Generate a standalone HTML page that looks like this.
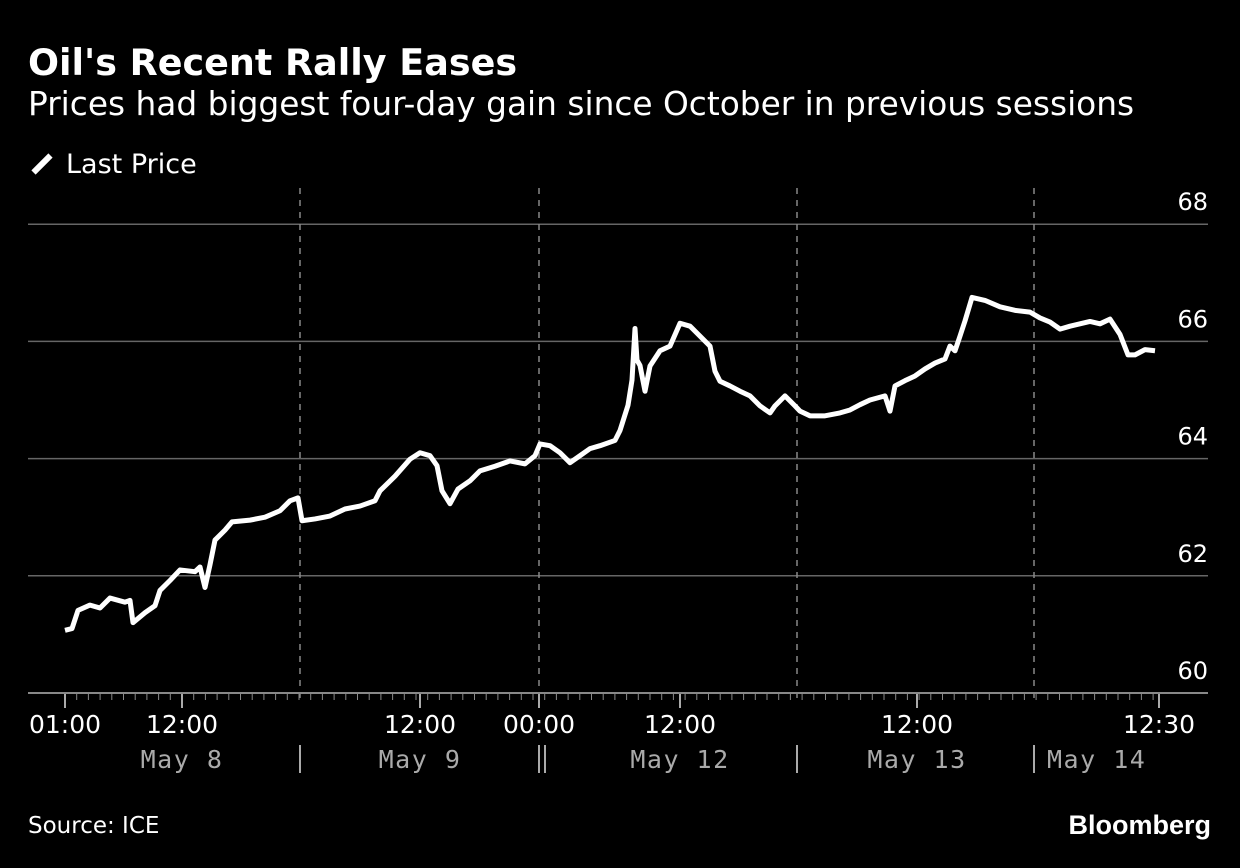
<!DOCTYPE html>
<html><head><meta charset="utf-8"><style>
body{margin:0;background:#000;width:1240px;height:868px;overflow:hidden;font-family:"DejaVu Sans","Liberation Sans",sans-serif;color:#fff}
.t{position:absolute;white-space:nowrap}
</style></head><body>
<div class="t" style="left:28px;top:41px;font-size:36.5px;font-weight:bold">Oil's Recent Rally Eases</div>
<div class="t" style="left:28px;top:85px;font-size:32.8px">Prices had biggest four-day gain since October in previous sessions</div>
<div class="t" style="left:30px;top:149px;font-size:27px"><span style="display:inline-block;width:24px;height:6px;background:#fff;transform:rotate(-45deg);vertical-align:middle;margin-right:12px;position:relative;top:-2px"></span>Last Price</div>
<div class="t" style="left:28px;top:813px;font-size:23px">Source: ICE</div>
<div class="t" style="right:29px;top:810px;font-size:27px;font-weight:bold;font-family:'Liberation Sans',sans-serif">Bloomberg</div>
<svg id="c" width="1240" height="868" style="position:absolute;left:0;top:0"></svg>
<script>
const yTicks=[60,62,64,66,68];
const timeLabels=["01:00","12:00","12:00","00:00","12:00","12:00","12:30"];
const timeLabelPos=[0,117,355,474,615,852,1094];
const dayLabels=["May 8","May 9","May 12","May 13","May 14"];
const dayLabelPos=[117,355,615,852,1031];
const sessionBreaks=[235,474,732,969];
const times=[0,7,13,25,35,45,60,65,68,80,90,95,105,115,130,135,140,145,150,160,167,185,200,215,225,233,237,250,265,280,295,310,315,330,345,355,365,372,377,385,393,405,415,430,445,460,470,475,485,495,505,515,525,535,550,555,563,567,570,572,575,580,585,595,605,615,625,635,645,650,655,665,675,685,695,705,710,720,730,735,745,760,775,785,795,805,820,825,830,840,850,860,870,880,885,890,895,900,907,920,935,950,965,975,985,995,1005,1015,1025,1035,1045,1055,1063,1070,1080,1090,1094];
const prices=[61.07,61.1,61.41,61.5,61.45,61.62,61.55,61.58,61.2,61.37,61.49,61.75,61.92,62.1,62.07,62.15,61.8,62.19,62.61,62.78,62.92,62.95,63.0,63.11,63.28,63.33,62.94,62.97,63.02,63.14,63.19,63.28,63.45,63.7,63.99,64.1,64.05,63.88,63.45,63.23,63.48,63.62,63.79,63.87,63.96,63.91,64.05,64.25,64.22,64.1,63.93,64.05,64.17,64.22,64.31,64.48,64.91,65.34,66.22,65.68,65.59,65.15,65.58,65.84,65.92,66.31,66.26,66.09,65.92,65.49,65.32,65.24,65.15,65.07,64.9,64.78,64.9,65.07,64.9,64.81,64.73,64.73,64.78,64.83,64.92,65.0,65.07,64.81,65.24,65.33,65.41,65.53,65.63,65.7,65.92,65.84,66.09,66.35,66.75,66.7,66.59,66.53,66.5,66.4,66.33,66.21,66.26,66.3,66.34,66.3,66.38,66.12,65.77,65.77,65.86,65.84];
const NS="http://www.w3.org/2000/svg",svg=document.getElementById('c');
const X=t=>65+t, Y=v=>693-(v-60)*58.6;
function mk(tag,a){const e=document.createElementNS(NS,tag);for(const k in a)e.setAttribute(k,a[k]);svg.appendChild(e);return e;}
yTicks.forEach(v=>{
 const l=mk('line',{x1:28,x2:1208,y1:Y(v),y2:Y(v),stroke:v==60?'#888':'#666','stroke-width':v==60?2:1.5});
 
 
 const t=mk('text',{x:1208,y:Y(v)-14,'text-anchor':'end','font-size':24,fill:'#fff','font-family':'DejaVu Sans'});t.textContent=v;
 
 
});
sessionBreaks.forEach(t=>{
 const l=mk('line',{x1:X(t),x2:X(t),y1:188,y2:700,stroke:'#888','stroke-width':1.5,'stroke-dasharray':'6,6'});
 
 
 const s=mk('line',{x1:X(t),x2:X(t),y1:745,y2:773,stroke:'#aaa','stroke-width':2});
 
 
});
const d2=mk('line',{x1:X(474)+6,x2:X(474)+6,y1:745,y2:773,stroke:'#aaa','stroke-width':2});


for(let px=65;px<1159;px+=11.7){const m=mk('line',{x1:px,x2:px,y1:694,y2:700,stroke:'#888','stroke-width':1});
 
 }
timeLabels.forEach((s,i)=>{
 const x=X(timeLabelPos[i]);
 const m=mk('line',{x1:x,x2:x,y1:694,y2:708,stroke:'#aaa','stroke-width':2});
 
 
 const t=mk('text',{x:x,y:733,'text-anchor':'middle','font-size':25,fill:'#fff','font-family':'DejaVu Sans'});t.textContent=s;
 
 
});
dayLabels.forEach((s,i)=>{
 const t=mk('text',{x:X(dayLabelPos[i]),y:768,'text-anchor':i==4?'start':'middle','font-size':25,fill:'#aaa','font-family':'DejaVu Sans Mono','letter-spacing':1.5});t.textContent=s;
 if(i==4)t.setAttribute('x',1047);
 
 
});
const p=mk('polyline',{points:times.map((t,i)=>X(t)+','+Y(prices[i])).join(' '),fill:'none',stroke:'#fff','stroke-width':5,'stroke-linejoin':'round'});


</script>
</body></html>
